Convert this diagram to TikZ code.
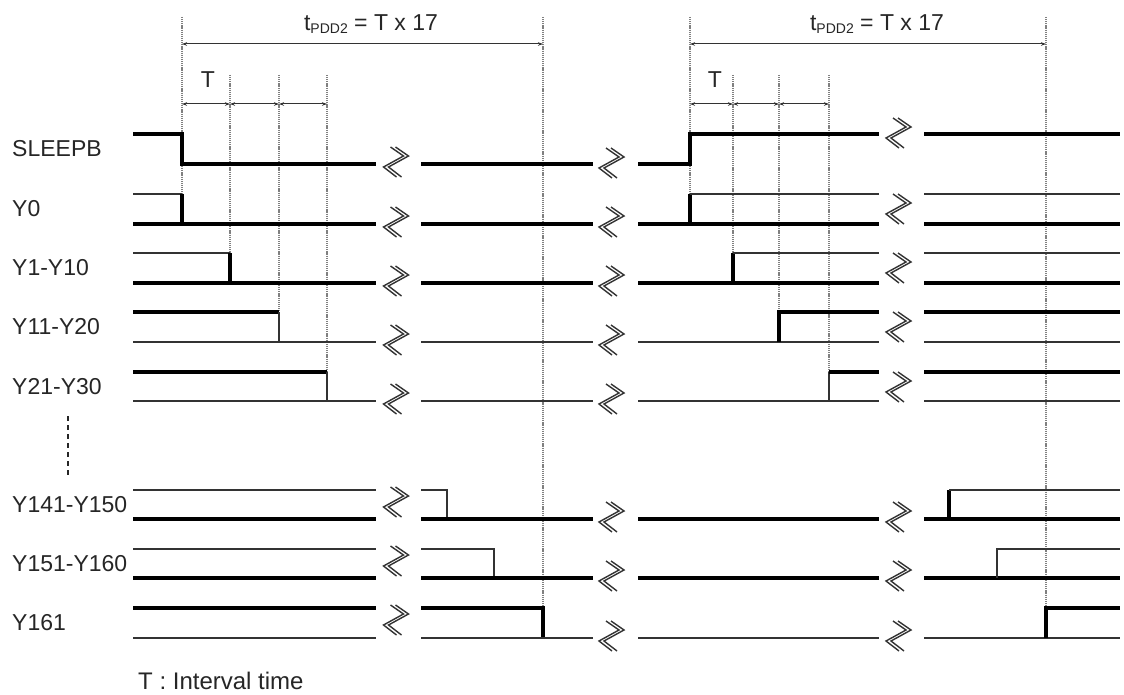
\documentclass[tikz,border=0pt]{standalone}
\usepackage{fontspec}
\setmainfont{Liberation Sans}
\usetikzlibrary{arrows.meta}
\tikzset{
  thk/.style={line width=3.2pt, black},
  thn/.style={line width=1.3pt, black!80},
  vdot/.style={line width=1.3pt, black!50, dash pattern=on 1.2pt off 0.9pt},
  dimarrow/.style={line width=1pt, black!80, {Stealth[length=5pt,width=3.5pt]}-{Stealth[length=5pt,width=3.5pt]}},
  lbl/.style={inner sep=0pt, anchor=west, text=black!85, font=\fontsize{23}{26}\selectfont},
  ttl/.style={inner sep=0pt, text=black!85, font=\fontsize{23}{26}\selectfont},
  brk/.pic={
    \draw[line width=1.4pt, black!80, line join=miter]
      (-6,-15) -- (7,-6) -- (-13,5) -- (0,15);
    \draw[line width=1.4pt, black!80, line join=miter]
      (-1,-15) -- (12,-6) -- (-8,5) -- (5,15);
  }
}
\begin{document}
\begin{tikzpicture}[x=1pt,y=-1pt]
\useasboundingbox (0,0) rectangle (1124,695);
\fill[white] (0,0) rectangle (1124,695);

% ---------- dotted guide lines ----------
\coordinate (La) at (182,17);  \coordinate (Lab) at (182,194);
\coordinate (Lb) at (230,75);  \coordinate (Lbb) at (230,253);
\coordinate (Lc) at (279,75);  \coordinate (Lcb) at (279,312);
\coordinate (Ld) at (327,75);  \coordinate (Ldb) at (327,372);
\coordinate (Le) at (543,17);  \coordinate (Leb) at (543,608);
\coordinate (Ra) at (690,17);  \coordinate (Rab) at (690,194);
\coordinate (Rb) at (733,75);  \coordinate (Rbb) at (733,253);
\coordinate (Rc) at (779,75);  \coordinate (Rcb) at (779,312);
\coordinate (Rd) at (829,75);  \coordinate (Rdb) at (829,372);
\coordinate (Re) at (1046,17); \coordinate (Reb) at (1046,608);
\foreach \t/\b in {La/Lab,Lb/Lbb,Lc/Lcb,Ld/Ldb,Le/Leb,Ra/Rab,Rb/Rbb,Rc/Rcb,Rd/Rdb,Re/Reb}
  \draw[vdot] (\t) -- (\b);

% ---------- dimension arrows ----------
\coordinate (LA1) at (182,44); \coordinate (LA2) at (543,44);
\coordinate (RA1) at (690,44); \coordinate (RA2) at (1046,44);
\draw[dimarrow] (LA1) -- (LA2);
\draw[dimarrow] (RA1) -- (RA2);
\coordinate (lt0) at (182,104); \coordinate (lt1) at (230,104);
\coordinate (lt2) at (279,104); \coordinate (lt3) at (327,104);
\coordinate (rt0) at (690,104); \coordinate (rt1) at (733,104);
\coordinate (rt2) at (779,104); \coordinate (rt3) at (829,104);
\draw[dimarrow] (lt0) -- (lt1);
\draw[dimarrow] (lt1) -- (lt2);
\draw[dimarrow] (lt2) -- (lt3);
\draw[dimarrow] (rt0) -- (rt1);
\draw[dimarrow] (rt1) -- (rt2);
\draw[dimarrow] (rt2) -- (rt3);

\node[ttl] (tpddL) at (371,24) {t\raisebox{-0.3ex}{\fontsize{14}{14}\selectfont PDD2} = T x 17};
\node[ttl] (tpddR) at (877,24) {t\raisebox{-0.3ex}{\fontsize{14}{14}\selectfont PDD2} = T x 17};
\node[ttl] (TL) at (208,80) {T};
\node[ttl] (TR) at (715,80) {T};

% ---------- labels ----------
\node[lbl] (lSLEEPB) at (12,149) {SLEEPB};
\node[lbl] (lY0) at (12,209) {Y0};
\node[lbl] (lY1) at (12,268) {Y1-Y10};
\node[lbl] (lY11) at (12,327) {Y11-Y20};
\node[lbl] (lY21) at (12,386.5) {Y21-Y30};
\node[lbl] (lY141) at (12,504.5) {Y141-Y150};
\node[lbl] (lY151) at (12,563.5) {Y151-Y160};
\node[lbl] (lY161) at (12,623) {Y161};
\node[lbl, font=\fontsize{24}{27}\selectfont] (note) at (138,681) {T : Interval time};
\coordinate (dsA) at (68,416); \coordinate (dsB) at (68,475);
\draw[line width=1.1pt, black!85, dash pattern=on 5pt off 4pt] (dsA) -- (dsB);

% ---------- SLEEPB ----------
\draw[thk] (133,134) -- (182,134) -- (182,164) -- (376,164);
\draw[thk] (421,164) -- (593,164);
\draw[thk] (638,164) -- (690,164) -- (690,134) -- (879,134);
\draw[thk] (924,134) -- (1120,134);
\pic at (396.5,162) {brk};
\pic at (612,163) {brk};
\pic at (899,133) {brk};

% ---------- Y0 ----------
\draw[thn] (133,194) -- (182,194);
\draw[thk] (182,194) -- (182,224);
\draw[thk] (133,224) -- (376,224);
\draw[thk] (421,224) -- (593,224);
\draw[thk] (638,224) -- (879,224);
\draw[thk] (690,224) -- (690,194);
\draw[thn] (690,194) -- (879,194);
\draw[thn] (924,194) -- (1120,194);
\draw[thk] (924,224) -- (1120,224);
\pic at (396.5,222) {brk};
\pic at (612,222) {brk};
\pic at (899,209) {brk};

% ---------- Y1-Y10 ----------
\draw[thn] (133,253) -- (230,253);
\draw[thk] (230,253) -- (230,283);
\draw[thk] (133,283) -- (376,283);
\draw[thk] (421,283) -- (593,283);
\draw[thk] (638,283) -- (879,283);
\draw[thk] (733,283) -- (733,253);
\draw[thn] (733,253) -- (879,253);
\draw[thn] (924,253) -- (1120,253);
\draw[thk] (924,283) -- (1120,283);
\pic at (396.5,281) {brk};
\pic at (612,281) {brk};
\pic at (899,268) {brk};

% ---------- Y11-Y20 ----------
\draw[thk] (133,312) -- (279,312);
\draw[thn] (279,312) -- (279,342);
\draw[thn] (133,342) -- (376,342);
\draw[thn] (421,342) -- (593,342);
\draw[thn] (638,342) -- (879,342);
\draw[thk] (779,342) -- (779,312) -- (879,312);
\draw[thk] (924,312) -- (1120,312);
\draw[thn] (924,342) -- (1120,342);
\pic at (396.5,340) {brk};
\pic at (612,340) {brk};
\pic at (899,327) {brk};

% ---------- Y21-Y30 ----------
\draw[thk] (133,372) -- (327,372);
\draw[thn] (327,372) -- (327,401);
\draw[thn] (133,401) -- (376,401);
\draw[thn] (421,401) -- (593,401);
\draw[thn] (638,401) -- (879,401);
\draw[thn] (829,401) -- (829,372);
\draw[thk] (829,372) -- (879,372);
\draw[thk] (924,372) -- (1120,372);
\draw[thn] (924,401) -- (1120,401);
\pic at (396.5,399) {brk};
\pic at (612,399) {brk};
\pic at (899,387) {brk};

% ---------- Y141-Y150 ----------
\draw[thn] (133,490) -- (376,490);
\draw[thk] (133,519) -- (376,519);
\draw[thn] (421,490) -- (447,490) -- (447,519);
\draw[thk] (421,519) -- (593,519);
\draw[thk] (638,519) -- (879,519);
\draw[thk] (924,519) -- (1120,519);
\draw[thk] (949,519) -- (949,490);
\draw[thn] (949,490) -- (1120,490);
\pic at (396.5,502) {brk};
\pic at (612,517) {brk};
\pic at (899,517) {brk};

% ---------- Y151-Y160 ----------
\draw[thn] (133,549) -- (376,549);
\draw[thk] (133,578) -- (376,578);
\draw[thn] (421,549) -- (494,549) -- (494,578);
\draw[thk] (421,578) -- (593,578);
\draw[thk] (638,578) -- (879,578);
\draw[thk] (924,578) -- (1120,578);
\draw[thn] (997,578) -- (997,549) -- (1120,549);
\pic at (396.5,561) {brk};
\pic at (612,576) {brk};
\pic at (899,576) {brk};

% ---------- Y161 ----------
\draw[thk] (133,608) -- (376,608);
\draw[thn] (133,638) -- (376,638);
\draw[thk] (421,608) -- (543,608) -- (543,638);
\draw[thn] (421,638) -- (593,638);
\draw[thn] (638,638) -- (879,638);
\draw[thn] (924,638) -- (1120,638);
\draw[thk] (1046,638) -- (1046,608) -- (1120,608);
\pic at (396.5,620) {brk};
\pic at (612,636) {brk};
\pic at (899,636) {brk};
\end{tikzpicture}
\end{document}
